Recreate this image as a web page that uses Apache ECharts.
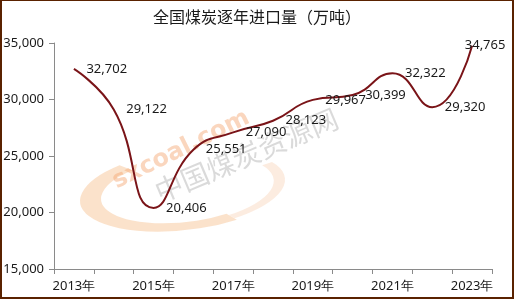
<!DOCTYPE html>
<html>
<head>
<meta charset="utf-8">
<script src="https://cdn.jsdelivr.net/npm/echarts@6/dist/echarts.min.js"></script>
<style>
html,body{margin:0;padding:0;background:#fff;}
#wrap{width:514px;height:299px;box-sizing:border-box;border-left:2px solid #5a2200;border-top:1px solid #5a2200;border-right:2px solid #5a2200;border-bottom:2px solid #5a2200;position:relative;overflow:hidden;}
#chart{position:absolute;left:-2px;top:-1px;width:514px;height:299px;}
</style>
</head>
<body>
<div id="wrap"><div id="chart"></div></div>
<script>
const title = '全国煤炭逐年进口量（万吨）';
const categories = ['2013年','2014年','2015年','2016年','2017年','2018年','2019年','2020年','2021年','2022年','2023年'];
const imports = [32702, 29122, 20406, 25551, 27090, 28123, 29967, 30399, 32322, 29320, 34765];
const yTicks = [15000, 20000, 25000, 30000, 35000];

const chart = echarts.init(document.getElementById('chart'), null, {renderer:'canvas'});
const fnt = '"Noto Sans", "DejaVu Sans", sans-serif';
const data = imports.map((v, i) => {
  if (i === imports.length - 1) {
    return {value: v, label: {position: 'inside', offset: [13, 0]}};
  }
  return v;
});
chart.setOption({
  animation: false,
  backgroundColor: 'transparent',
  title: {
    text: title, left: 'center', top: 4,
    textStyle: {fontFamily: '"Noto Sans CJK SC", sans-serif', fontSize: 16, fontWeight: 'normal', color: '#1a1a1a'}
  },
  graphic: [
    {type: 'arc', shape: {cx: 0, cy: 0, r: 100, startAngle: Math.PI*0.35, endAngle: Math.PI*1.3},
     x: 185, y: 190, scaleX: 0.95, scaleY: 0.36, rotation: 0.12, z: -10,
     style: {fill: 'none', stroke: 'rgba(247,190,140,0.45)', lineWidth: 13, strokeNoScale: true}},
    {type: 'arc', shape: {cx: 0, cy: 0, r: 100, startAngle: Math.PI*1.85, endAngle: Math.PI*2.35},
     x: 185, y: 190, scaleX: 0.95, scaleY: 0.36, rotation: 0.12, z: -10,
     style: {fill: 'none', stroke: 'rgba(247,200,165,0.35)', lineWidth: 7, strokeNoScale: true}},
    {type: 'text', x: 114, y: 183, rotation: 0.46, z: -9,
     style: {text: 'sxcoal.com', font: 'bold 24px "DejaVu Sans", sans-serif', fill: 'rgba(245,165,110,0.45)', textAlign: 'left', textVerticalAlign: 'middle'}},
    {type: 'text', x: 156, y: 193, rotation: 0.4, z: -9,
     style: {text: '中国煤炭资源网', font: '28px "Noto Sans CJK SC", sans-serif', fill: 'rgba(150,150,150,0.35)', textAlign: 'left', textVerticalAlign: 'middle'}}
  ],
  grid: {left: 54, right: 22, top: 43, bottom: 30, containLabel: false},
  xAxis: {
    type: 'category', data: categories, boundaryGap: true,
    axisLine: {lineStyle: {color: '#8a8a8a', width: 1}},
    axisTick: {show: true, length: 5, alignWithLabel: false, interval: 0, lineStyle: {color: '#8a8a8a'}},
    axisLabel: {interval: 1, margin: 11, fontFamily: fnt, fontSize: 13, color: '#1a1a1a'},
    splitLine: {show: false}
  },
  yAxis: {
    type: 'value', min: yTicks[0], max: yTicks[yTicks.length-1], interval: 5000,
    axisLine: {show: true, lineStyle: {color: '#8a8a8a', width: 1}},
    axisTick: {show: true, length: 5, lineStyle: {color: '#8a8a8a'}},
    axisLabel: {margin: 10, fontFamily: fnt, fontSize: 13, color: '#1a1a1a',
      formatter: v => v.toLocaleString('en-US')},
    splitLine: {show: false}
  },
  series: [{
    type: 'line', data: data, smooth: 0.5,
    symbol: 'circle', symbolSize: 1, showSymbol: true,
    itemStyle: {color: 'transparent'},
    lineStyle: {color: '#7a1418', width: 2},
    label: {show: true, position: 'right', distance: 12, fontFamily: fnt, fontSize: 13, color: '#1a1a1a',
      formatter: p => p.value.toLocaleString('en-US')},
    z: 5
  }]
});
</script>
</body>
</html>
